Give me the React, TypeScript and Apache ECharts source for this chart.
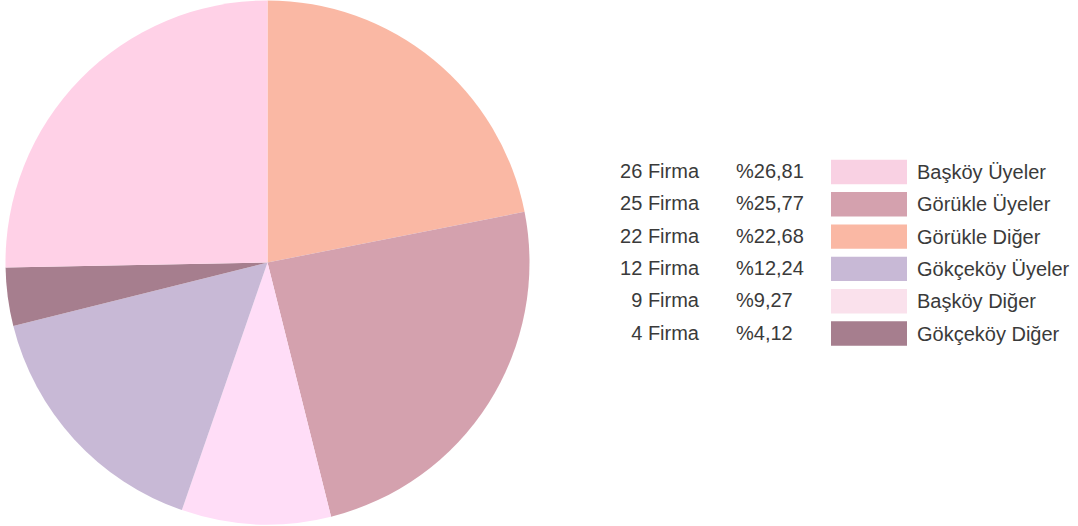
import React, { useEffect, useRef } from "react";
import * as echarts from "echarts";

// Pie slices, clockwise from top
const sliceNames = ["Görükle Diğer", "Görükle Üyeler", "Başköy Diğer", "Gökçeköy Üyeler", "Gökçeköy Diğer", "Başköy Üyeler"];
const sliceValues = [21.9, 24.2, 9.2, 15.8, 3.6, 25.3];
const sliceColors = ["#FAB8A4", "#D4A1AE", "#FFDDF7", "#C8B9D6", "#A67E8E", "#FFD1E7"];

// Legend table rows
const legendCounts = ["26 Firma", "25 Firma", "22 Firma", "12 Firma", "9 Firma", "4 Firma"];
const legendPercents = ["%26,81", "%25,77", "%22,68", "%12,24", "%9,27", "%4,12"];
const legendNames = ["Başköy Üyeler", "Görükle Üyeler", "Görükle Diğer", "Gökçeköy Üyeler", "Başköy Diğer", "Gökçeköy Diğer"];
const legendColors = ["#F9D1E3", "#D4A1AE", "#FAB8A4", "#C8B9D6", "#FAE1EC", "#A67E8E"];

export default function App() {
  const ref = useRef<HTMLDivElement>(null);
  useEffect(() => {
    document.body.style.margin = "0";
    const chart = echarts.init(ref.current!, null, { renderer: "svg" });
    const font = "'Liberation Sans', Arial, sans-serif";
    const fontSize = 20;
    const textColor = "#3a3a3a";
    const graphics: any[] = [];
    legendNames.forEach((name, i) => {
      const cy = 172 + i * 32.3;
      graphics.push({
        type: "text",
        x: 699,
        y: cy - 1,
        style: { text: legendCounts[i], fill: textColor, font: `${fontSize}px ${font}`, textAlign: "right", textVerticalAlign: "middle" },
      });
      graphics.push({
        type: "text",
        x: 736,
        y: cy - 1,
        style: { text: legendPercents[i], fill: textColor, font: `${fontSize}px ${font}`, textAlign: "left", textVerticalAlign: "middle" },
      });
      graphics.push({
        type: "rect",
        shape: { x: 831, y: cy - 12.2, width: 76, height: 24.4 },
        style: { fill: legendColors[i] },
      });
      graphics.push({
        type: "text",
        x: 917,
        y: cy,
        style: { text: name, fill: textColor, font: `${fontSize}px ${font}`, textAlign: "left", textVerticalAlign: "middle" },
      });
    });
    chart.setOption({
      animation: false,
      backgroundColor: "#ffffff",
      series: [
        {
          type: "pie",
          center: [267.5, 262.5],
          radius: 262,
          startAngle: 90,
          clockwise: true,
          label: { show: false },
          labelLine: { show: false },
          itemStyle: { borderWidth: 0 },
          emphasis: { disabled: true },
          data: sliceNames.map((n, i) => ({ name: n, value: sliceValues[i], itemStyle: { color: sliceColors[i] } })),
        },
      ],
      graphic: graphics,
    });
    return () => chart.dispose();
  }, []);
  return <div ref={ref} style={{ width: 1078, height: 526 }} />;
}
